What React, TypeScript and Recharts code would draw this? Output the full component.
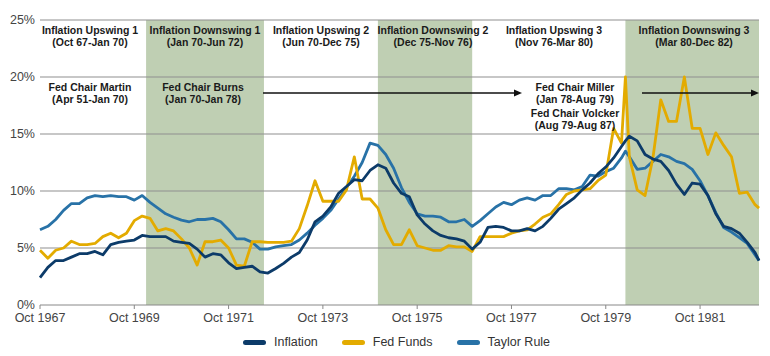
import React from "react";
import { LineChart, Line, XAxis, YAxis, ReferenceArea, ReferenceLine } from "recharts";

const FONT = '"Liberation Sans", Arial, Helvetica, sans-serif';

// month index, 0 = Oct 1967 (mostly every 2 months)
const months = [
  0, 2, 4, 6, 8, 10, 12, 14, 16, 18, 20, 22, 24, 26, 28, 30, 32, 34, 36, 38, 40, 42, 44, 46,
  48, 50, 52, 54, 56, 58, 60, 62, 64, 66, 68, 70, 72, 74, 76, 78, 80, 82, 84, 86, 88, 90, 92, 94,
  96, 98, 100, 102, 104, 106, 108, 110, 112, 114, 116, 118, 120, 122, 124, 126, 128, 130, 132, 134, 136, 138, 140, 142,
  144, 146, 148, 149, 150, 152, 154, 156, 158, 160, 162, 164, 166, 168, 170, 172, 174, 176, 178, 180, 182, 183,
];

const inflation = [
  2.4, 3.3, 3.9, 3.9, 4.2, 4.5, 4.5, 4.7, 4.4, 5.3, 5.5, 5.6,
  5.7, 6.1, 6.0, 6.0, 6.0, 5.6, 5.5, 5.4, 4.9, 4.2, 4.5, 4.4,
  3.7, 3.2, 3.3, 3.4, 2.9, 2.8, 3.2, 3.65, 4.2, 4.6, 5.7, 7.3,
  7.8, 8.6, 9.8, 10.4, 11.0, 10.9, 11.8, 12.3, 12.0, 10.7, 9.8, 9.5,
  7.9, 7.1, 6.5, 6.1, 5.9, 5.8, 5.6, 4.9, 5.5, 6.8, 6.9, 6.8,
  6.5, 6.5, 6.7, 6.5, 6.9, 7.6, 8.4, 8.9, 9.4, 10.1, 10.7, 11.5,
  12.1, 12.9, 13.9, 14.4, 14.8, 14.4, 13.2, 12.8, 12.6, 11.8, 10.6, 9.7, 10.7, 10.6, 9.6, 8.0,
  6.9, 6.7, 6.3, 5.5, 4.6, 3.9,
];

const fedFunds = [
  4.8, 4.1, 4.8, 5.0, 5.6, 5.3, 5.3, 5.4, 6.0, 6.3, 5.9, 6.3,
  7.4, 7.8, 7.6, 6.5, 6.7, 6.5, 5.8, 5.0, 3.5, 5.55, 5.55, 5.7,
  5.0, 3.5, 3.4, 5.55, 5.55, 5.5, 5.5, 5.5, 5.6, 6.7, 8.7, 10.9,
  9.1, 9.1, 9.1, 10.1, 13.0, 9.3, 9.3, 8.5, 6.6, 5.3, 5.3, 6.6,
  5.2, 5.0, 4.8, 4.8, 5.2, 5.1, 5.1, 4.7, 6.0, 6.0, 6.0, 6.0,
  6.3, 6.5, 6.6, 7.1, 7.7, 8.0, 8.8, 9.7, 10.0, 10.1, 10.2, 10.9,
  11.4, 15.5, 14.2, 20.0, 13.0, 10.1, 9.6, 12.9, 18.0, 16.1, 16.1, 20.0, 15.5, 15.5, 13.2, 15.1,
  14.0, 13.0, 9.8, 9.9, 8.8, 8.5,
];

const taylorRule = [
  6.6, 6.9, 7.5, 8.3, 8.9, 8.9, 9.4, 9.6, 9.5, 9.6, 9.5, 9.5,
  9.2, 9.6, 9.0, 8.5, 8.0, 7.7, 7.45, 7.3, 7.5, 7.5, 7.6, 7.3,
  6.6, 5.8, 5.8, 5.5, 4.9, 4.9, 5.1, 5.2, 5.3, 5.7, 6.3, 7.0,
  7.6, 8.3, 9.3, 10.3, 11.3, 12.5, 14.2, 14.0, 13.2, 12.0, 10.3, 9.0,
  8.0, 7.8, 7.8, 7.7, 7.3, 7.3, 7.5, 6.9, 7.4, 8.0, 8.6, 9.0,
  8.8, 9.2, 9.4, 9.2, 9.6, 9.6, 10.2, 10.2, 10.1, 10.4, 11.4, 11.3,
  11.7, 12.0, 12.9, 13.5, 13.0, 11.9, 12.0, 12.6, 13.2, 13.0, 12.6, 12.4, 11.9, 10.9, 9.6, 8.1,
  6.8, 6.4, 5.9, 5.4, 4.4, 3.9,
];

const xTicks = [0, 24, 48, 72, 96, 120, 144, 168];
const yTicks = [0, 5, 10, 15, 20, 25];
const gridLevels = [5, 10, 15, 20, 25];

// shaded inflation downswings, in month index
const downswings = [
  [27, 57],
  [86, 110],
  [149, 183],
];

const phaseLabels = [
  { x: 90, title: "Inflation Upswing 1", range: "(Oct 67-Jan 70)" },
  { x: 205, title: "Inflation Downswing 1", range: "(Jan 70-Jun 72)" },
  { x: 321, title: "Inflation Upswing 2", range: "(Jun 70-Dec 75)" },
  { x: 433, title: "Inflation Downswing 2", range: "(Dec 75-Nov 76)" },
  { x: 554, title: "Inflation Upswing 3", range: "(Nov 76-Mar 80)" },
  { x: 694, title: "Inflation Downswing 3", range: "(Mar 80-Dec 82)" },
];

const chairLabels = [
  { x: 90, y: 91, title: "Fed Chair Martin", range: "(Apr 51-Jan 70)" },
  { x: 203, y: 91, title: "Fed Chair Burns", range: "(Jan 70-Jan 78)" },
  { x: 575, y: 91, title: "Fed Chair Miller", range: "(Jan 78-Aug 79)" },
  { x: 575, y: 117, title: "Fed Chair Volcker", range: "(Aug 79-Aug 87)" },
];

const arrows = [
  { x1: 263, x2: 522, y: 93 },
  { x1: 642, x2: 759, y: 93 },
];

const series = [
  { key: "inflation", name: "Inflation", color: "#0c3b69" },
  { key: "fedFunds", name: "Fed Funds", color: "#e3ab00" },
  { key: "taylorRule", name: "Taylor Rule", color: "#2872a7" },
];

const data = months.map((m, i) => ({
  m,
  inflation: inflation[i],
  fedFunds: fedFunds[i],
  taylorRule: taylorRule[i],
}));

const tickStyle = { fontSize: 12.5, fill: "#444", fontFamily: FONT };

export default function App() {
  return (
    <div style={{ position: "fixed", left: 0, top: 0, width: 770, height: 356, background: "#fff", fontFamily: FONT }}>
      <LineChart width={770} height={356} data={data} margin={{ top: 20, right: 11, bottom: 21, left: 0 }}>
        {downswings.map(([a, b], i) => (
          <ReferenceArea key={i} x1={a} x2={b} y1={0} y2={25} fill="#bfcfb3" fillOpacity={1} stroke="none" />
        ))}
        {gridLevels.map((v) => (
          <ReferenceLine key={v} y={v} stroke="#8f8f8f" strokeWidth={1} />
        ))}
        <XAxis
          dataKey="m"
          type="number"
          domain={[0, 183]}
          ticks={xTicks}
          tickFormatter={(m: number) => `Oct ${1967 + m / 12}`}
          height={30}
          tick={tickStyle}
          tickSize={4}
          tickMargin={4}
          stroke="#888"
          interval={0}
        />
        <YAxis
          type="number"
          domain={[0, 25]}
          ticks={yTicks}
          tickFormatter={(v: number) => `${v}%`}
          width={40}
          tick={tickStyle}
          axisLine={false}
          tickLine={false}
          tickSize={3}
          tickMargin={2}
          interval={0}
        />
        <Line dataKey="taylorRule" stroke="#2872a7" strokeWidth={2.8} dot={false} isAnimationActive={false} strokeLinejoin="round" />
        <Line dataKey="fedFunds" stroke="#e3ab00" strokeWidth={2.8} dot={false} isAnimationActive={false} strokeLinejoin="round" />
        <Line dataKey="inflation" stroke="#0c3b69" strokeWidth={2.8} dot={false} isAnimationActive={false} strokeLinejoin="round" />
      </LineChart>

      <svg width={770} height={356} style={{ position: "absolute", left: 0, top: 0, pointerEvents: "none" }}>
        <g fontFamily={FONT} fontSize={10.5} fontWeight="bold" fill="#1a1a1a" textAnchor="middle">
          {phaseLabels.map((p) => (
            <g key={p.title}>
              <text x={p.x} y={33.5}>{p.title}</text>
              <text x={p.x} y={45.5}>{p.range}</text>
            </g>
          ))}
          {chairLabels.map((c) => (
            <g key={c.title}>
              <text x={c.x} y={c.y}>{c.title}</text>
              <text x={c.x} y={c.y + 12}>{c.range}</text>
            </g>
          ))}
        </g>
        {arrows.map((a, i) => (
          <g key={i}>
            <line x1={a.x1} x2={a.x2 - 7} y1={a.y} y2={a.y} stroke="#111" strokeWidth={1.4} />
            <polygon points={`${a.x2 - 8},${a.y - 3.5} ${a.x2},${a.y} ${a.x2 - 8},${a.y + 3.5}`} fill="#111" />
          </g>
        ))}
      </svg>

      <div style={{ position: "absolute", top: 334, left: 243, display: "flex", alignItems: "center", height: 16 }}>
        {series.map((s, i) => (
          <div key={s.key} style={{ display: "flex", alignItems: "center", marginRight: i < series.length - 1 ? 24 : 0 }}>
            <span style={{ display: "inline-block", width: 23, height: 5, borderRadius: 3, background: s.color, marginRight: 8 }} />
            <span style={{ fontSize: 12.5, color: "#333" }}>{s.name}</span>
          </div>
        ))}
      </div>
    </div>
  );
}
